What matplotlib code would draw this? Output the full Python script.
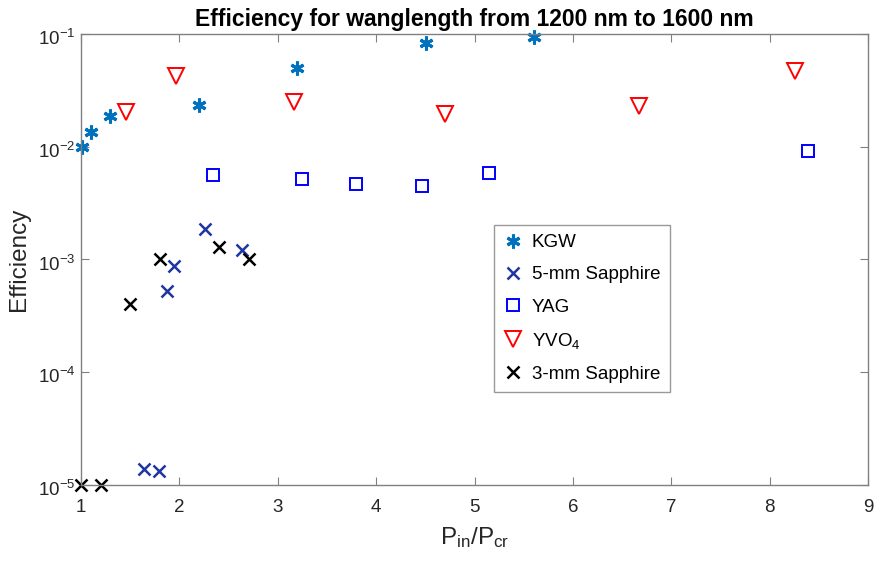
import math
import matplotlib.pyplot as plt
import matplotlib.transforms as mtransforms
from matplotlib.ticker import LogLocator, NullLocator, FuncFormatter

plt.rcParams['font.family'] = ['Liberation Sans', 'DejaVu Sans']
plt.rcParams['mathtext.fontset'] = 'custom'
plt.rcParams['mathtext.rm'] = 'Liberation Sans'
plt.rcParams['mathtext.it'] = 'Liberation Sans'

# KGW
kgw_x = [1.01, 1.10, 1.29, 2.20, 3.20, 4.51, 5.60]
kgw_y = [0.0099, 0.0134, 0.0188, 0.0234, 0.0497, 0.0828, 0.0946]

# 5-mm Sapphire
s5_x = [2.26, 2.64, 1.95, 1.87, 1.64, 1.79]
s5_y = [0.00185, 0.00121, 0.00087, 0.00053, 1.39e-5, 1.34e-5]

# YAG
yag_x = [2.34, 3.25, 3.80, 4.47, 5.15, 8.39]
yag_y = [0.0056, 0.00515, 0.0047, 0.0045, 0.00586, 0.0092]

# YVO4
yvo_x = [1.46, 1.97, 3.17, 4.70, 6.67, 8.26]
yvo_y = [0.0204, 0.0424, 0.0250, 0.0195, 0.0229, 0.0472]

# 3-mm Sapphire
s3_x = [1.0, 1.2, 1.50, 1.80, 2.40, 2.71]
s3_y = [1e-5, 1e-5, 4.0e-4, 1e-3, 1.29e-3, 1e-3]

fig = plt.figure(figsize=(8.75, 5.61), dpi=100)
ax = fig.add_axes([0.0926, 0.1355, 0.8994, 0.8039])

ax.plot(kgw_x, kgw_y, linestyle='none', marker=(6, 2, 0), color='#0072BD',
        markersize=10, markeredgewidth=2.2, label='KGW', clip_on=False)
ax.plot(s5_x, s5_y, linestyle='none', marker='x', color='#1F35A0',
        markersize=8, markeredgewidth=1.8, label='5-mm Sapphire', clip_on=False)
ax.plot(yag_x, yag_y, linestyle='none', marker='s', color='#0000FF',
        markerfacecolor='none', markersize=9, markeredgewidth=1.4, label='YAG', clip_on=False)
ax.plot(yvo_x, yvo_y, linestyle='none', marker='v', color='#FF0000',
        markerfacecolor='none', markersize=12, markeredgewidth=1.4, label='YVO$_4$', clip_on=False)
ax.plot(s3_x, s3_y, linestyle='none', marker='x', color='black',
        markersize=8, markeredgewidth=1.8, label='3-mm Sapphire', clip_on=False)

ax.set_yscale('log')
ax.set_xlim(1, 9)
ax.set_ylim(1e-5, 1e-1)
ax.set_xticks(range(1, 10))
ax.yaxis.set_major_locator(LogLocator(base=10, numticks=10))
ax.yaxis.set_minor_locator(NullLocator())

def log_label(v, pos):
    e = int(round(math.log10(v)))
    return '10$^{\\mathregular{' + str(e) + '}}$'

ax.yaxis.set_major_formatter(FuncFormatter(log_label))

axis_gray = '#808080'
for s in ax.spines.values():
    s.set_color(axis_gray)
    s.set_linewidth(1.0)
ax.tick_params(which='both', direction='in', top=True, right=True,
               color=axis_gray, length=6, labelsize=13.5, labelcolor='#262626')
ax.tick_params(axis='y', pad=4)
ax.tick_params(axis='x', pad=10)

# shift y tick labels down a little, like the original
offset = mtransforms.ScaledTranslation(0, -3 / 100, fig.dpi_scale_trans)
for lab in ax.get_yticklabels():
    lab.set_transform(lab.get_transform() + offset)

ax.set_xlabel('P$_{\\mathregular{in}}$/P$_{\\mathregular{cr}}$', fontsize=17.5,
              color='#262626', labelpad=7)
ax.set_ylabel('Efficiency', fontsize=17.5, color='#262626', labelpad=6)
ax.set_title('Efficiency for wanglength from 1200 nm to 1600 nm', fontsize=16.5,
             fontweight='bold', color='black', pad=6)

leg = ax.legend(loc='upper left', bbox_to_anchor=(0.525, 0.577), borderaxespad=0,
                fontsize=13.5, frameon=True, fancybox=False, handlelength=1.0,
                handletextpad=0.5, labelspacing=0.8, borderpad=0.5)
leg.get_frame().set_edgecolor(axis_gray)
leg.get_frame().set_linewidth(1.0)

fig.savefig('out.png', dpi=100)
